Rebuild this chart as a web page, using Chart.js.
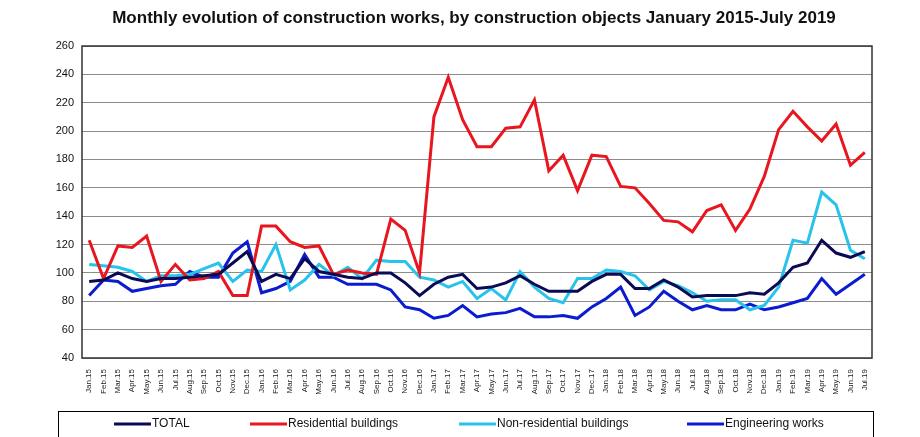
<!DOCTYPE html>
<html>
<head>
<meta charset="utf-8">
<script src="https://cdn.jsdelivr.net/npm/chart.js@4.4.1/dist/chart.umd.min.js"></script>
<style>
  html,body{margin:0;padding:0;background:#fff}
  #wrap{width:920px;height:437px;position:relative}
</style>
</head>
<body>
<div id="wrap"><canvas id="c" width="920" height="437"></canvas></div>
<script>
const months = ['Jan.15','Feb.15','Mar.15','Apr.15','May.15','Jun.15','Jul.15','Aug.15','Sep.15','Oct.15','Nov.15','Dec.15',
  'Jan.16','Feb.16','Mar.16','Apr.16','May.16','Jun.16','Jul.16','Aug.16','Sep.16','Oct.16','Nov.16','Dec.16',
  'Jan.17','Feb.17','Mar.17','Apr.17','May.17','Jun.17','Jul.17','Aug.17','Sep.17','Oct.17','Nov.17','Dec.17',
  'Jan.18','Feb.18','Mar.18','Apr.18','May.18','Jun.18','Jul.18','Aug.18','Sep.18','Oct.18','Nov.18','Dec.18',
  'Jan.19','Feb.19','Mar.19','Apr.19','May.19','Jun.19','Jul.19'];

const total = [94,95,100,96,94,96,96,97,98,99,107,115,
  94,99,96,110,101,99,97,96,100,100,93,84,
  92,97,99,89,90,93,98,92,87,87,87,94,
  99,99,89,89,95,90,83,84,84,84,86,85,
  93,104,107,123,114,111,115];

const residential = [123,96,119,118,126,94,106,95,96,101,84,84,
  133,133,122,118,119,99,102,100,99,138,130,100,
  210,238,208,189,189,202,203,222,172,183,158,183,
  182,161,160,149,137,136,129,144,148,130,145,168,
  201,214,203,193,205,176,185];

const nonResidential = [106,105,104,101,94,98,98,99,103,107,94,102,
  101,120,88,95,106,98,104,96,109,108,108,97,
  95,90,94,82,89,81,101,90,82,79,96,96,
  102,101,98,88,94,91,86,80,81,81,74,77,
  90,123,121,157,148,116,110];

const engineering = [84,95,94,87,89,91,92,101,97,97,114,122,
  86,89,94,113,97,97,92,92,92,88,76,74,
  68,70,77,69,71,72,75,69,69,70,68,76,
  82,90,70,76,87,80,74,77,74,74,78,74,
  76,79,82,96,85,92,99];

const seriesNames = ['TOTAL','Residential buildings','Non-residential buildings','Engineering works'];
const seriesColors = ['#0b0b55','#e8161e','#27c3ec','#0a1bd0'];
const yTicks = {min:40, max:260, step:20};
const titleText = 'Monthly evolution of construction works, by construction objects January 2015-July 2019';

const FONT = '"Liberation Sans", Arial, sans-serif';

const frame = {
  id:'frame',
  afterDraw(chart){
    const {ctx, chartArea:a} = chart;
    ctx.save();
    // plot border
    ctx.strokeStyle = '#333';
    ctx.lineWidth = 1.5;
    ctx.strokeRect(a.left, a.top, a.right-a.left, a.bottom-a.top);
    // title
    ctx.fillStyle = '#111';
    ctx.font = 'bold 17px '+FONT;
    ctx.textAlign = 'center';
    ctx.textBaseline = 'middle';
    ctx.fillText(titleText, 474, 18);
    // legend box
    ctx.strokeStyle = '#000';
    ctx.lineWidth = 1;
    ctx.strokeRect(58.5, 411.5, 815, 40);
    const xs = [114, 250, 459, 687];
    ctx.font = '12px '+FONT;
    ctx.textAlign = 'left';
    seriesNames.forEach((n,i)=>{
      ctx.strokeStyle = seriesColors[i];
      ctx.lineWidth = 3;
      ctx.beginPath(); ctx.moveTo(xs[i], 424); ctx.lineTo(xs[i]+37, 424); ctx.stroke();
      ctx.fillStyle = '#111';
      ctx.fillText(n, xs[i]+38, 424);
    });
    ctx.restore();
  }
};

const datasets = [total, residential, nonResidential, engineering].map((d,i)=>({
  label: seriesNames[i],
  data: d,
  borderColor: seriesColors[i],
  backgroundColor: seriesColors[i],
  borderWidth: 3,
  pointRadius: 0,
  tension: 0,
  fill: false,
  order: i
}));

new Chart(document.getElementById('c'), {
  type:'line',
  data:{ labels: months, datasets },
  options:{
    responsive:false,
    animation:false,
    layout:{ padding:{ top:46, right:48, left:0, bottom:0 } },
    plugins:{ legend:{display:false}, title:{display:false}, tooltip:{enabled:false} },
    scales:{
      x:{
        offset:true,
        grid:{ display:false },
        border:{ display:false },
        ticks:{ autoSkip:false, maxRotation:90, minRotation:90, color:'#222', padding:3, font:{ size:8, family:FONT } },
        afterFit(s){ s.height = 79; }
      },
      y:{
        min: yTicks.min, max: yTicks.max,
        grid:{ color:'#8c8c8c', lineWidth:1, drawTicks:false },
        border:{ display:false },
        ticks:{ stepSize: yTicks.step, color:'#111', padding:8, font:{ size:11, family:FONT } },
        afterFit(s){ s.width = 82; }
      }
    }
  },
  plugins:[frame]
});
</script>
</body>
</html>
